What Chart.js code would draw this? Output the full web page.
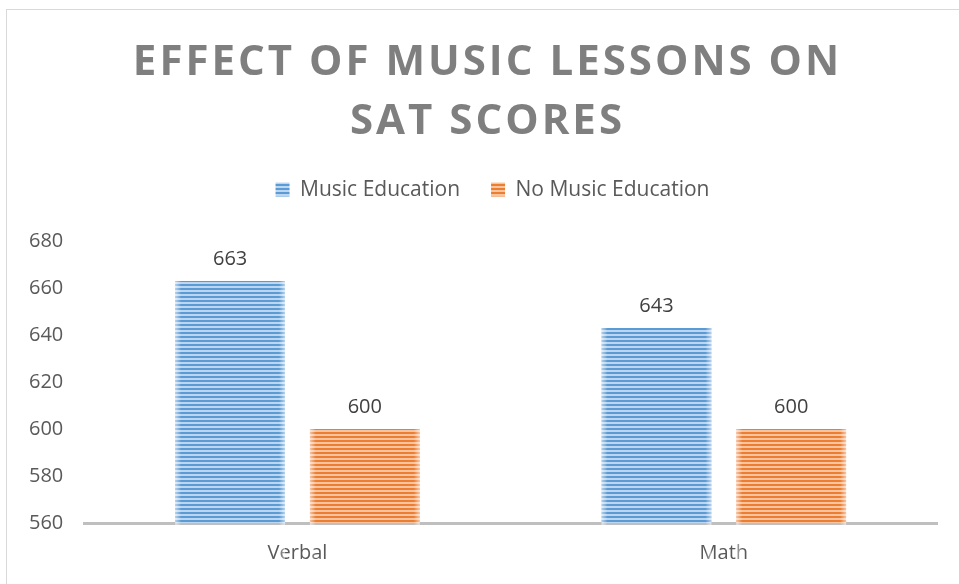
<!DOCTYPE html>
<html>
<head>
<meta charset="utf-8">
<script src="https://cdn.jsdelivr.net/npm/chart.js@4"></script>
<style>
    html, body { margin: 0; padding: 0; background: #ffffff; overflow: hidden; }
    #wrap { position: relative; width: 959px; height: 584px; }
    #frame { position: absolute; left: 6px; top: 9px; width: 1000px; height: 700px; border: 1.5px solid #d9d9d9; box-sizing: border-box; }
    #chart { position: absolute; left: 0; top: 0; }
</style>
</head>
<body>
<div id="wrap">
    <div id="frame"></div>
    <canvas id="chart" width="959" height="584"></canvas>
</div>
<script>
const categories = ['Verbal', 'Math'];
const seriesNames = ['Music Education', 'No Music Education'];
const musicEducation = [663, 643];
const noMusicEducation = [600, 600];
const yTicks = [560, 580, 600, 620, 640, 660, 680];
const titleLines = ['EFFECT OF MUSIC LESSONS ON', 'SAT SCORES'];

// striped fill like the excel "horizontal lines" pattern
function makeStripes(dark, light) {
    const c = document.createElement('canvas');
    c.width = 8;
    c.height = 4;
    const g = c.getContext('2d');
    g.fillStyle = light;
    g.fillRect(0, 0, 8, 4);
    g.fillStyle = dark;
    g.fillRect(0, 0, 8, 2);
    return document.getElementById('chart').getContext('2d').createPattern(c, 'repeat');
}

const bluePattern = makeStripes('#5b9bd5', '#bcd6ef');
const orangePattern = makeStripes('#ed7d31', '#f7c4a0');

// title letter spacing + nudge title/legend to the right (frame is wider than the picture)
const boxTweaks = {
    id: 'boxTweaks',
    beforeInit(chart) {
        const lg = chart.legend;
        if (lg) {
            const origFit = lg.fit.bind(lg);
            lg.fit = function () {
                origFit();
                this.height += 31;
            };
        }
    },
    beforeDraw(chart) {
        const tb = chart.titleBlock;
        if (tb && !tb._tweaked) {
            const orig = tb.draw.bind(tb);
            tb.draw = function () {
                const ctx = chart.ctx;
                ctx.save();
                ctx.translate(15, 0);
                ctx.letterSpacing = '3px';
                orig();
                ctx.restore();
            };
            tb._tweaked = true;
        }
        const lg = chart.legend;
        if (lg && !lg._tweaked) {
            const origDraw = lg.draw.bind(lg);
            lg.draw = function () {
                const ctx = chart.ctx;
                ctx.save();
                ctx.translate(20, 0);
                origDraw();
                ctx.restore();
            };
            lg._tweaked = true;
        }
    }
};

// value labels above bars
const valueLabels = {
    id: 'valueLabels',
    afterDatasetsDraw(chart) {
        const ctx = chart.ctx;
        ctx.save();
        ctx.font = '20px "Open Sans"';
        ctx.fillStyle = '#404040';
        ctx.textAlign = 'center';
        ctx.textBaseline = 'bottom';
        chart.data.datasets.forEach((ds, i) => {
            const meta = chart.getDatasetMeta(i);
            meta.data.forEach((bar, j) => {
                ctx.fillText(String(ds.data[j]), bar.x, bar.y - 12);
            });
        });
        ctx.restore();
    }
};

// lighter soft edges on the bars
const barEdges = {
    id: 'barEdges',
    afterDatasetsDraw(chart) {
        const ctx = chart.ctx;
        ctx.save();
        chart.data.datasets.forEach((ds, i) => {
            chart.getDatasetMeta(i).data.forEach(bar => {
                const left = bar.x - bar.width / 2;
                const right = bar.x + bar.width / 2;
                const top = bar.y;
                const h = bar.base - bar.y;
                let g = ctx.createLinearGradient(left, 0, left + 6, 0);
                g.addColorStop(0, 'rgba(255,255,255,0.55)');
                g.addColorStop(1, 'rgba(255,255,255,0)');
                ctx.fillStyle = g;
                ctx.fillRect(left, top, 6, h);
                g = ctx.createLinearGradient(right - 6, 0, right, 0);
                g.addColorStop(0, 'rgba(255,255,255,0)');
                g.addColorStop(1, 'rgba(255,255,255,0.55)');
                ctx.fillStyle = g;
                ctx.fillRect(right - 6, top, 6, h);
            });
        });
        ctx.restore();
    }
};

new Chart(document.getElementById('chart'), {
    type: 'bar',
    data: {
        labels: categories,
        datasets: [
            {
                label: seriesNames[0],
                data: musicEducation,
                backgroundColor: bluePattern,
                borderWidth: 0
            },
            {
                label: seriesNames[1],
                data: noMusicEducation,
                backgroundColor: orangePattern,
                borderWidth: 0
            }
        ]
    },
    options: {
        responsive: false,
        animation: false,
        categoryPercentage: 0.632,
        barPercentage: 0.815,
        layout: {
            padding: { top: 34, left: 8, right: 22, bottom: 1 }
        },
        plugins: {
            title: {
                display: true,
                text: titleLines,
                color: '#7f7f7f',
                font: { family: '"Open Sans"', size: 42, weight: 'bold', lineHeight: 1.405 },
                padding: { top: 0, bottom: -4 }
            },
            legend: {
                position: 'top',
                labels: {
                    color: '#595959',
                    font: { family: '"Open Sans"', size: 21 },
                    boxWidth: 14,
                    boxHeight: 14,
                    padding: 31
                }
            },
            tooltip: { enabled: false }
        },
        scales: {
            x: {
                grid: { display: false, drawTicks: false },
                border: { display: true, color: '#bfbfbf', width: 3 },
                ticks: {
                    color: '#595959',
                    font: { family: '"Open Sans"', size: 20 },
                    padding: 18
                }
            },
            y: {
                min: yTicks[0],
                max: yTicks[yTicks.length - 1],
                grid: { display: false, drawTicks: false },
                border: { display: false },
                afterBuildTicks(axis) {
                    axis.ticks = yTicks.map(v => ({ value: v }));
                },
                ticks: {
                    color: '#595959',
                    font: { family: '"Open Sans"', size: 20 },
                    padding: 21
                }
            }
        }
    },
    plugins: [boxTweaks, barEdges, valueLabels]
});
</script>
</body>
</html>
